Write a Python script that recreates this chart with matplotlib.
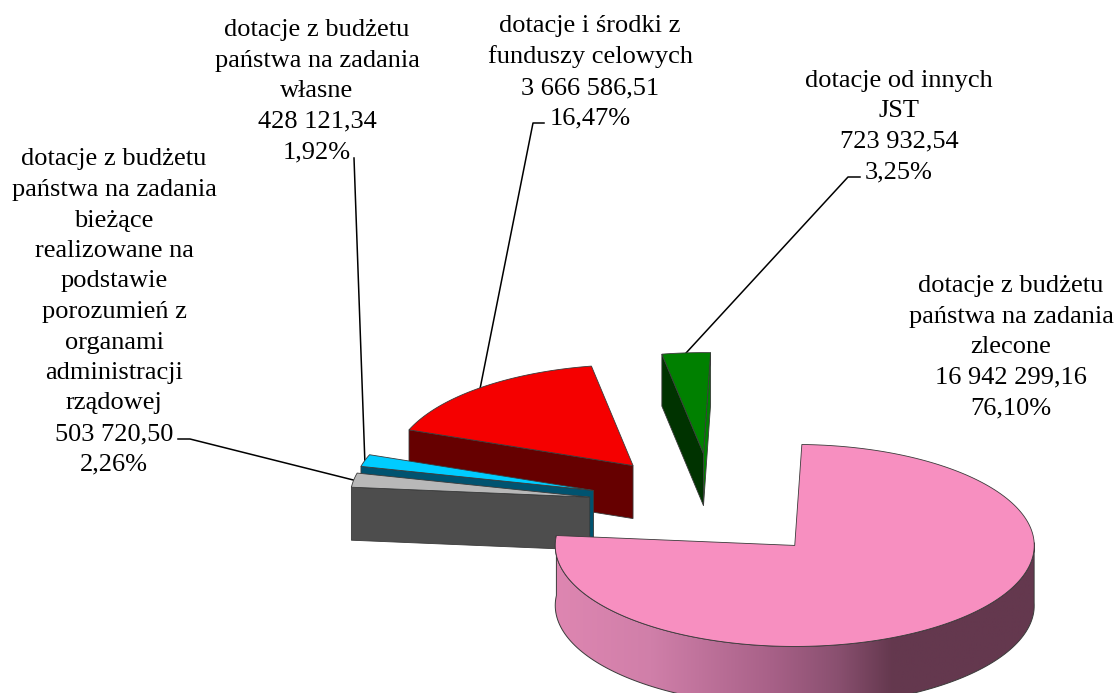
import numpy as np
import matplotlib
matplotlib.use("Agg")
import matplotlib.pyplot as plt
from matplotlib.colors import LinearSegmentedColormap
from matplotlib.patches import Polygon

# slices, clockwise from the top
names = [
    "dotacje z budżetu\npaństwa na zadania\nzlecone",
    "dotacje z budżetu\npaństwa na zadania\nbieżące\nrealizowane na\npodstawie\nporozumień z\norganami\nadministracji\nrządowej",
    "dotacje z budżetu\npaństwa na zadania\nwłasne",
    "dotacje i środki z\nfunduszy celowych",
    "dotacje od innych\nJST",
]
values = [16942299.16, 503720.50, 428121.34, 3666586.51, 723932.54]
percents = [76.10, 2.26, 1.92, 16.47, 3.25]

top_colors = ["#F78FC0", "#B8B8B8", "#00CCFF", "#F50000", "#008000"]
side_colors = ["#DE86B1", "#4D4D4D", "#005370", "#660000", "#003300"]
label_pos = [(1011, 347), (114, 312), (317, 91), (590, 72), (899, 126.5)]
label_elbow = [None, (190, 439), (354, 158), (533, 123), (848, 177)]
label_start = [None, (178, 439), (354, 158), (544, 123), (860, 177)]

# layout in pixels
cx, cy = 712.5, 506
rx, ry = 239.5, 101
start_angle = 1.7
explode = 0.52
depths = [60, 53, 53, 53, 52]
edge = "#3a3a3a"


def rim(ang, ox, oy):
    a = np.radians(ang)
    return ox + rx * np.sin(a), oy - ry * np.cos(a)


def apex(mid):
    x, y = rim(mid, cx, cy)
    return cx + (x - cx) * explode, cy + (y - cy) * explode


def fmt_value(v):
    s = f"{v:,.2f}"
    return s.replace(",", " ").replace(".", ",")


fig = plt.figure(figsize=(11.17, 6.93), dpi=100)
ax = fig.add_axes([0, 0, 1, 1])

shares = np.array(values) / sum(values) * 360
ends = start_angle + np.cumsum(shares)
starts = ends - shares
mids = (starts + ends) / 2

# back to front, pink goes last
for order, i in enumerate([4, 3, 2, 1, 0]):
    z = 2 + order
    ox, oy = apex(mids[i])
    d = depths[i]
    ang = np.linspace(starts[i], ends[i], 200)
    xs, ys = rim(ang, ox, oy)

    if i == 0:
        # rim side, shaded left to right
        fx, fy = xs[ang >= 88], ys[ang >= 88]
        side = np.concatenate([np.c_[fx, fy], np.c_[fx[::-1], fy[::-1] + d]])
        poly = Polygon(side, closed=True, fc="none", ec=edge, lw=0.7, zorder=z + 0.1)
        ax.add_patch(poly)
        cmap = LinearSegmentedColormap.from_list(
            "rim",
            [(0, "#DE86B1"), (0.2, "#D07FA9"), (0.45, "#A86188"), (0.59, "#8A5070"),
             (0.705, "#64384E"), (1, "#64384E")],
        )
        im = ax.imshow(np.linspace(0, 1, 256)[None, :], cmap=cmap, aspect="auto",
                       extent=(fx.min(), fx.max(), 693, 400), zorder=z)
        im.set_clip_path(poly)
    else:
        x0, y0 = xs[0], ys[0]
        ax.add_patch(Polygon([(x0, y0), (ox, oy), (ox, oy + d), (x0, y0 + d)],
                             fc=side_colors[i], ec=edge, lw=0.6, zorder=z))
        if i == 4:
            # the far cut face of the green slice shows too
            x1, y1 = xs[-1], ys[-1]
            ax.add_patch(Polygon([(x1, y1), (ox, oy), (ox, oy + d), (x1, y1 + d)],
                                 fc=top_colors[i], ec=edge, lw=0.6, zorder=z))

    top = np.vstack([[ox, oy], np.c_[xs, ys]])
    ax.add_patch(Polygon(top, closed=True, fc=top_colors[i], ec=edge, lw=0.6, zorder=z + 0.2))

for i in range(5):
    txt = f"{names[i]}\n{fmt_value(values[i])}\n{percents[i]:.2f}%".replace(".", ",")
    ax.text(label_pos[i][0], label_pos[i][1], txt, ha="center", va="center", fontsize=19,
            family="Liberation Serif", linespacing=1.5, color="black", zorder=10)
    if label_elbow[i] is not None:
        ox, oy = apex(mids[i])
        ex, ey = rim(mids[i], ox, oy)
        ax.plot([label_start[i][0], label_elbow[i][0], ex], [label_start[i][1], label_elbow[i][1], ey],
                color="black", lw=1.1, zorder=1)

ax.set_xlim(0, 1117)
ax.set_ylim(693, 0)
ax.axis("off")
fig.savefig("out.png", dpi=100)
